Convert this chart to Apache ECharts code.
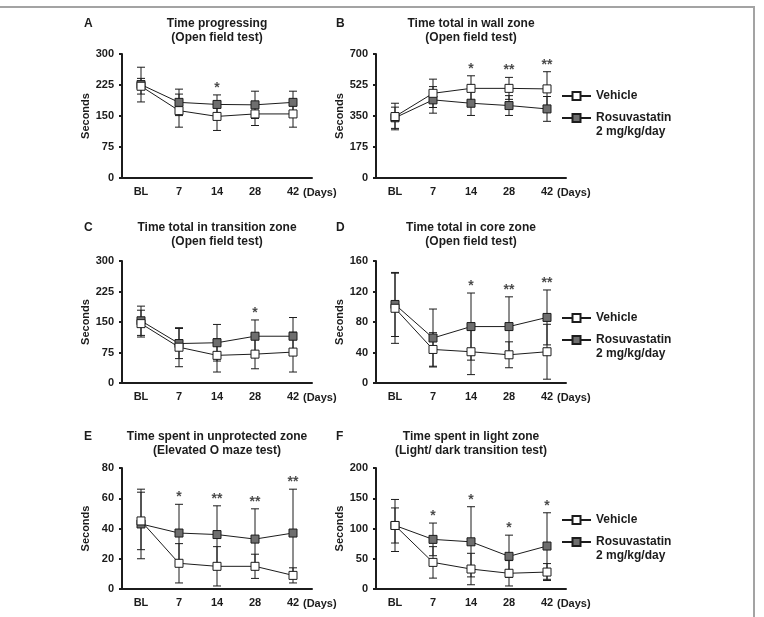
<!DOCTYPE html>
<html>
<head>
<meta charset="utf-8">
<script src="https://cdn.jsdelivr.net/npm/echarts@6/dist/echarts.min.js"></script>
<style>
  html, body { margin: 0; padding: 0; background: #fff; }
  #wrap { position: relative; width: 764px; height: 617px; overflow: hidden; }
  #chart { width: 764px; height: 617px; }
  #frame {
    position: absolute; left: -2px; top: 6px; width: 755px; height: 620px;
    border-top: 2px solid #a3a3a3; border-right: 2px solid #a3a3a3;
    pointer-events: none;
  }
</style>
</head>
<body>
<div id="wrap">
  <div id="chart"></div>
  <div id="frame"></div>
</div>
<script>
// categories (days)
const categories = ['BL', '7', '14', '28', '42'];

// A - Time progressing (Open field test)
const ticksA = [0, 75, 150, 225, 300];
const vehicleA = [222, 163, 149, 155, 155];
const vehicleErrA = [19, 40, 34, 28, 32];
const rosuvaA = [226, 183, 178, 177, 183];
const rosuvaErrA = [42, 32, 23, 33, 27];
const starsA = ['', '', '*', '', ''];

// B - Time total in wall zone
const ticksB = [0, 175, 350, 525, 700];
const vehicleB = [347, 478, 506, 506, 503];
const vehicleErrB = [75, 80, 71, 62, 97];
const rosuvaB = [340, 441, 422, 409, 390];
const rosuvaErrB = [60, 75, 69, 56, 70];
const starsB = ['', '', '*', '**', '**'];

// C - Time total in transition zone
const ticksC = [0, 75, 150, 225, 300];
const vehicleC = [146, 88, 68, 71, 76];
const vehicleErrC = [33, 48, 41, 36, 49];
const rosuvaC = [153, 97, 99, 115, 115];
const rosuvaErrC = [36, 37, 45, 40, 46];
const starsC = ['', '', '', '*', ''];

// D - Time total in core zone
const ticksD = [0, 40, 80, 120, 160];
const vehicleD = [98, 44, 41, 37, 41];
const vehicleErrD = [46, 22, 30, 17, 36];
const rosuvaD = [103, 59, 74, 74, 86];
const rosuvaErrD = [42, 38, 44, 39, 36];
const starsD = ['', '', '*', '**', '**'];

// E - Time spent in unprotected zone
const ticksE = [0, 20, 40, 60, 80];
const vehicleE = [45, 17, 15, 15, 9];
const vehicleErrE = [19, 13, 13, 8, 5];
const rosuvaE = [43, 37, 36, 33, 37];
const rosuvaErrE = [23, 19, 19, 20, 29];
const starsE = ['', '*', '**', '**', '**'];

// F - Time spent in light zone
const ticksF = [0, 50, 100, 150, 200];
const vehicleF = [105, 44, 33, 26, 28];
const vehicleErrF = [29, 26, 26, 21, 14];
const rosuvaF = [105, 82, 78, 54, 71];
const rosuvaErrF = [43, 27, 58, 35, 55];
const starsF = ['', '*', '*', '*', '*'];

const panels = [
  { letter: 'A', title: 'Time progressing\n(Open field test)', ticks: ticksA, veh: vehicleA, vehErr: vehicleErrA, ros: rosuvaA, rosErr: rosuvaErrA, stars: starsA },
  { letter: 'B', title: 'Time total in wall zone\n(Open field test)', ticks: ticksB, veh: vehicleB, vehErr: vehicleErrB, ros: rosuvaB, rosErr: rosuvaErrB, stars: starsB },
  { letter: 'C', title: 'Time total in transition zone\n(Open field test)', ticks: ticksC, veh: vehicleC, vehErr: vehicleErrC, ros: rosuvaC, rosErr: rosuvaErrC, stars: starsC },
  { letter: 'D', title: 'Time total in core zone\n(Open field test)', ticks: ticksD, veh: vehicleD, vehErr: vehicleErrD, ros: rosuvaD, rosErr: rosuvaErrD, stars: starsD },
  { letter: 'E', title: 'Time spent in unprotected zone\n(Elevated O maze test)', ticks: ticksE, veh: vehicleE, vehErr: vehicleErrE, ros: rosuvaE, rosErr: rosuvaErrE, stars: starsE },
  { letter: 'F', title: 'Time spent in light zone\n(Light/ dark transition test)', ticks: ticksF, veh: vehicleF, vehErr: vehicleErrF, ros: rosuvaF, rosErr: rosuvaErrF, stars: starsF }
];

// layout
const FONT = '"Liberation Sans", Arial, sans-serif';
const INK = '#1c1c1c';
const colLeft = [122, 376];
const plotW = 190;
const rowTop = [54, 261, 468];
const rowH = [124, 122, 121];
const titleTop = [17, 221, 430];
const legendTop = [84, 306, 508];
const legendLine2 = [132, 354, 556];

const grid = [], xAxis = [], yAxis = [], series = [], title = [], legend = [], graphic = [];

panels.forEach((p, i) => {
  const col = i % 2, row = Math.floor(i / 2);
  const left = colLeft[col];
  grid.push({ left: left, top: rowTop[row], width: plotW, height: rowH[row] });

  title.push({
    text: p.title, left: left + plotW / 2, top: titleTop[row], textAlign: 'center', padding: 0,
    textStyle: { fontFamily: FONT, fontSize: 12, fontWeight: 'bold', color: INK, lineHeight: 14 }
  });
  title.push({
    text: p.letter, left: col === 0 ? 84 : 336, top: titleTop[row], padding: 0,
    textStyle: { fontFamily: FONT, fontSize: 12, fontWeight: 'bold', color: INK, lineHeight: 14 }
  });

  xAxis.push({
    gridIndex: i, type: 'category', data: categories,
    axisLine: { lineStyle: { color: INK, width: 2 } },
    axisTick: { length: 4, lineStyle: { color: INK, width: 2 } },
    axisLabel: { color: INK, fontFamily: FONT, fontSize: 11, fontWeight: 'bold', margin: 8 }
  });
  // unit label placed after the last category label
  graphic.push({
    type: 'text', x: left + plotW - 9, y: rowTop[row] + rowH[row] + 15,
    style: { text: '(Days)', fill: INK, font: 'bold 11px ' + FONT, verticalAlign: 'middle' }
  });

  const t = p.ticks;
  yAxis.push({
    gridIndex: i, type: 'value', min: t[0], max: t[t.length - 1], interval: t[1] - t[0],
    axisLine: { show: true, lineStyle: { color: INK, width: 2 } },
    axisTick: { show: true, length: 3, lineStyle: { color: INK, width: 2 } },
    splitLine: { show: false },
    axisLabel: { color: INK, fontFamily: FONT, fontSize: 11, fontWeight: 'bold', margin: 8 },
    name: 'Seconds', nameLocation: 'middle', nameGap: 31,
    nameTextStyle: { color: INK, fontFamily: FONT, fontSize: 11, fontWeight: 'bold' }
  });

  // error bars
  const errData = [];
  p.veh.forEach((v, j) => errData.push([j, v - p.vehErr[j], v + p.vehErr[j]]));
  p.ros.forEach((v, j) => errData.push([j, v - p.rosErr[j], v + p.rosErr[j]]));
  series.push({
    type: 'custom', xAxisIndex: i, yAxisIndex: i, z: 2, silent: true,
    data: errData,
    renderItem: (params, api) => {
      const lo = api.coord([api.value(0), api.value(1)]);
      const hi = api.coord([api.value(0), api.value(2)]);
      const w = 4;
      const st = { stroke: INK, lineWidth: 1 };
      return {
        type: 'group',
        children: [
          { type: 'line', shape: { x1: hi[0], y1: hi[1], x2: lo[0], y2: lo[1] }, style: st },
          { type: 'line', shape: { x1: hi[0] - w, y1: hi[1], x2: hi[0] + w, y2: hi[1] }, style: st },
          { type: 'line', shape: { x1: lo[0] - w, y1: lo[1], x2: lo[0] + w, y2: lo[1] }, style: st }
        ]
      };
    }
  });

  series.push({
    name: 'Vehicle', type: 'line', xAxisIndex: i, yAxisIndex: i, z: 4,
    data: p.veh, symbol: 'rect', symbolSize: 8,
    lineStyle: { color: INK, width: 1 },
    itemStyle: { color: '#ffffff', borderColor: INK, borderWidth: 1 }
  });
  series.push({
    name: 'Rosuvastatin', type: 'line', xAxisIndex: i, yAxisIndex: i, z: 3,
    data: p.ros, symbol: 'rect', symbolSize: 8,
    lineStyle: { color: INK, width: 1 },
    itemStyle: { color: '#6e6e6e', borderColor: INK, borderWidth: 1 }
  });

  // significance stars above the highest error bar
  const starData = p.stars.map((s, j) => s ? [j, Math.max(p.veh[j] + p.vehErr[j], p.ros[j] + p.rosErr[j])] : null)
    .filter(d => d);
  series.push({
    type: 'scatter', xAxisIndex: i, yAxisIndex: i, z: 5, silent: true,
    symbolSize: 0, data: starData,
    label: {
      show: true, position: 'top', distance: 0,
      formatter: (d) => p.stars[d.value[0]],
      color: INK, fontFamily: FONT, fontSize: 14, fontWeight: 'bold'
    }
  });

  if (col === 1) {
    legend.push({
      orient: 'vertical', left: 556, top: legendTop[row],
      data: ['Vehicle', 'Rosuvastatin'],
      itemWidth: 29, itemHeight: 10, itemGap: 8,
      textStyle: { color: INK, fontFamily: FONT, fontSize: 12, fontWeight: 'bold', lineHeight: 14 }
    });
    graphic.push({
      type: 'text', x: 596, y: legendLine2[row],
      style: { text: '2 mg/kg/day', fill: INK, font: 'bold 12px ' + FONT, verticalAlign: 'middle' }
    });
  }
});

const chart = echarts.init(document.getElementById('chart'), null, { renderer: 'canvas' });
chart.setOption({
  animation: false,
  backgroundColor: '#ffffff',
  title: title,
  legend: legend,
  grid: grid,
  xAxis: xAxis,
  yAxis: yAxis,
  series: series,
  graphic: graphic
});
</script>
</body>
</html>
